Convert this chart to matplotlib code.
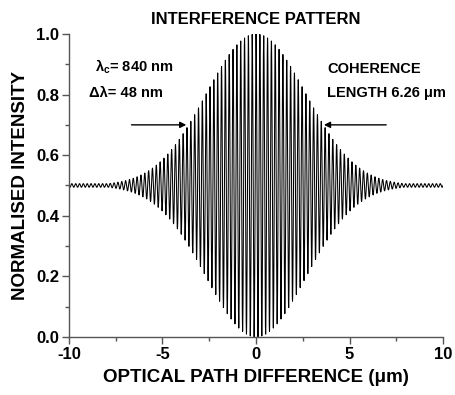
import numpy as np
import matplotlib
matplotlib.use("Agg")
import matplotlib.pyplot as plt
from matplotlib.ticker import MultipleLocator

plt.rcParams['font.family'] = ['Liberation Sans', 'DejaVu Sans']
plt.rcParams['font.weight'] = 'bold'
plt.rcParams['mathtext.default'] = 'regular'
plt.rcParams['axes.unicode_minus'] = False

# source / pattern parameters
center_wavelength_nm = 840
bandwidth_nm = 48
coherence_length_um = 6.26
fringe_period_um = 0.205      # apparent fringe spacing in the picture
background_level = 0.5
residual_amplitude = 0.006    # small ripple left at the edges
opd_range_um = [-10, 10]

# optical path difference samples and the resulting pattern
opd = np.linspace(opd_range_um[0], opd_range_um[1], 40001)
sigma = coherence_length_um / (2 * np.sqrt(2 * np.log(2)))
envelope = np.maximum(np.exp(-opd**2 / (2 * sigma**2)), residual_amplitude / background_level)
intensity = background_level + background_level * envelope * np.cos(2 * np.pi * opd / fringe_period_um)

fig, ax = plt.subplots(figsize=(4.56, 3.95), dpi=100)
fig.subplots_adjust(left=0.151, right=0.972, top=0.914, bottom=0.147)

ax.plot(opd, intensity, color='black', lw=0.75)

ax.set_xlim(-10, 10)
ax.set_ylim(0, 1.0)
ax.xaxis.set_major_locator(MultipleLocator(5))
ax.xaxis.set_minor_locator(MultipleLocator(2.5))
ax.yaxis.set_major_locator(MultipleLocator(0.2))
ax.yaxis.set_minor_locator(MultipleLocator(0.1))
ax.yaxis.set_major_formatter(plt.FormatStrFormatter('%.1f'))

for side in ['top', 'right']:
    ax.spines[side].set_visible(False)
for side in ['left', 'bottom']:
    ax.spines[side].set_color('#555555')
    ax.spines[side].set_linewidth(1.0)
ax.tick_params(which='major', direction='out', length=5, width=1, color='#555555',
               labelsize=12, pad=2)
ax.tick_params(which='minor', direction='out', length=3, width=1, color='#555555')
for lbl in ax.get_xticklabels() + ax.get_yticklabels():
    lbl.set_fontweight('bold')

ax.set_title('INTERFERENCE PATTERN', fontsize=12, fontweight='bold', pad=7)
ax.set_xlabel('OPTICAL PATH DIFFERENCE (μm)', fontsize=13.5, fontweight='bold', labelpad=5)
ax.set_ylabel('NORMALISED INTENSITY', fontsize=13.5, fontweight='bold', labelpad=5)

ax.text(-8.6, 0.89, 'λ$_c$= %d nm' % center_wavelength_nm, fontsize=10.5,
        fontweight='bold', va='center')
ax.text(-8.9, 0.805, 'Δλ= %d nm' % bandwidth_nm, fontsize=10.5,
        fontweight='bold', va='center')
ax.text(3.8, 0.885, 'COHERENCE', fontsize=10.5, fontweight='bold', va='center')
ax.text(3.8, 0.805, 'LENGTH %.2f μm' % coherence_length_um, fontsize=10.5,
        fontweight='bold', va='center')

half_width = coherence_length_um / 2
arrow_y = 0.70
ax.annotate('', xy=(-half_width - 0.45, arrow_y), xytext=(-6.8, arrow_y),
            arrowprops=dict(arrowstyle='-|>', color='black', lw=1, mutation_scale=9))
ax.annotate('', xy=(half_width + 0.35, arrow_y), xytext=(7.1, arrow_y),
            arrowprops=dict(arrowstyle='-|>', color='black', lw=1, mutation_scale=9))

fig.savefig('out.png', dpi=100)
